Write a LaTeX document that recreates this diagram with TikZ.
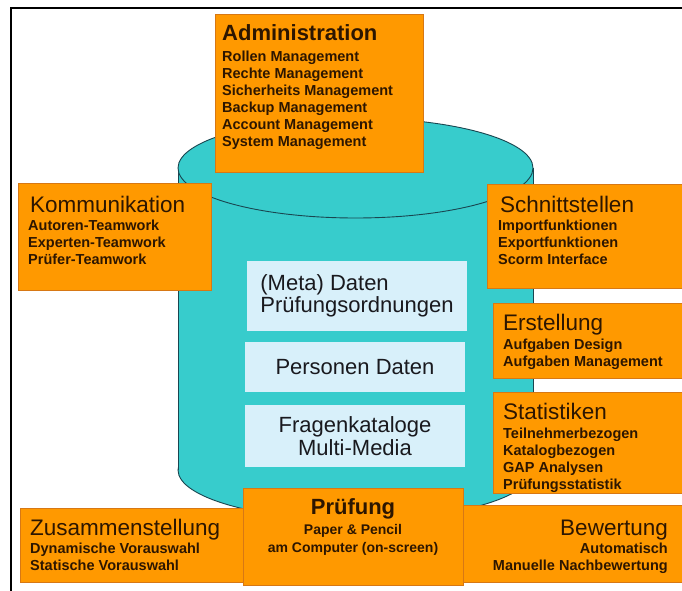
\documentclass[tikz,border=0pt]{standalone}
\usepackage{fontspec}
\setmainfont{Liberation Sans}
\definecolor{boxorange}{RGB}{255,153,0}
\definecolor{boxedge}{RGB}{215,120,20}
\definecolor{dbteal}{RGB}{55,204,204}
\definecolor{dbline}{RGB}{25,70,80}
\definecolor{panelblue}{RGB}{216,240,250}
\definecolor{inktext}{RGB}{45,22,0}
\definecolor{paneltext}{RGB}{25,25,30}
\begin{document}
\begin{tikzpicture}[x=1pt,y=-1pt,
  orangebox/.style={draw=boxedge, line width=0.6pt, fill=boxorange, inner sep=0, rectangle},
  panel/.style={fill=panelblue, inner sep=0, rectangle, text=paneltext,
    font=\fontsize{22}{22}\selectfont},
  heading/.style={anchor=base west, inner sep=0, text=inktext,
    font=\fontsize{22.5}{24}\selectfont},
  boldheading/.style={heading, font=\fontsize{22}{24}\selectfont\bfseries},
  itemlist/.style={anchor=base west, inner sep=0, text=inktext,
    font=\fontsize{14.5}{17}\selectfont\bfseries},
  dbedge/.style={draw=dbline, line width=0.9pt}]
\useasboundingbox (0,0) rectangle (682,591);
\fill[white] (0,0) rectangle (682,591);

% frame
\draw[line width=2pt] (11,591) -- (11,8.5) -- (682,8.5);

% database cylinder
\filldraw[dbedge, fill=dbteal] (355.5,470) ellipse [x radius=177.5, y radius=50];
\fill[dbteal] (178,168) rectangle (533,470);
\draw[dbedge] (178,168) -- (178,470);
\draw[dbedge] (533,168) -- (533,470);
\filldraw[dbedge, fill=dbteal] (355.5,168) ellipse [x radius=177.5, y radius=50];

% Administration
\node[orangebox, minimum width=208, minimum height=158] (admin) at (319,93) {};
\node[boldheading] (adminT) at (222,40.5) {Administration};
\node[itemlist] (adminL) at (222,62) {\begin{tabular}[t]{@{}l@{}}Rollen Management\\Rechte Management\\Sicherheits Management\\Backup Management\\Account Management\\System Management\end{tabular}};

% Kommunikation
\node[orangebox, minimum width=193, minimum height=107] (komm) at (114.5,236.5) {};
\node[heading] (kommT) at (30,212.5) {Kommunikation};
\node[itemlist] (kommL) at (28,230) {\begin{tabular}[t]{@{}l@{}}Autoren-Teamwork\\Experten-Teamwork\\Prüfer-Teamwork\end{tabular}};

% Schnittstellen
\node[orangebox, minimum width=195, minimum height=104] (schn) at (584.5,236) {};
\node[heading] (schnT) at (500,212.5) {Schnittstellen};
\node[itemlist] (schnL) at (498,230) {\begin{tabular}[t]{@{}l@{}}Importfunktionen\\Exportfunktionen\\Scorm Interface\end{tabular}};

% Erstellung
\node[orangebox, minimum width=189, minimum height=75] (erst) at (587.5,340.5) {};
\node[heading] (erstT) at (503,330.5) {Erstellung};
\node[itemlist] (erstL) at (503,349) {\begin{tabular}[t]{@{}l@{}}Aufgaben Design\\Aufgaben Management\end{tabular}};

% Statistiken
\node[orangebox, minimum width=189, minimum height=101] (stat) at (587.5,442.5) {};
\node[heading] (statT) at (503,419.5) {Statistiken};
\node[itemlist] (statL) at (503,438) {\begin{tabular}[t]{@{}l@{}}Teilnehmerbezogen\\Katalogbezogen\\GAP Analysen\\Prüfungsstatistik\end{tabular}};

% data panels inside the cylinder
\node[panel, minimum width=220, minimum height=70, align=left] (meta) at (357,296) {(Meta) Daten\\Prüfungsordnungen};
\node[panel, minimum width=220, minimum height=50] (pers) at (355,367) {Personen Daten};
\node[panel, minimum width=220, minimum height=62, align=center,
  font=\fontsize{22}{23}\selectfont] (frag) at (355,436) {Fragenkataloge\\Multi-Media};

% Zusammenstellung
\node[orangebox, minimum width=230, minimum height=74] (zus) at (135,545) {};
\node[heading] (zusT) at (30,535.5) {Zusammenstellung};
\node[itemlist] (zusL) at (30,553) {\begin{tabular}[t]{@{}l@{}}Dynamische Vorauswahl\\Statische Vorauswahl\end{tabular}};

% Bewertung
\node[orangebox, minimum width=224, minimum height=77] (bew) at (570,543.5) {};
\node[heading, anchor=base east] (bewT) at (668,535.5) {Bewertung};
\node[itemlist, anchor=base east] (bewL) at (668,553) {\begin{tabular}[t]{@{}r@{}}Automatisch\\Manuelle Nachbewertung\end{tabular}};

% Pruefung
\node[orangebox, minimum width=220, minimum height=97] (pruef) at (353,536.5) {};
\node[boldheading, anchor=base] (pruefT) at (353,514.5) {Prüfung};
\node[itemlist, anchor=base, font=\fontsize{14}{18}\selectfont\bfseries] (pruefL) at (353,534) {\begin{tabular}[t]{@{}c@{}}Paper \& Pencil\\am Computer (on-screen)\end{tabular}};
\end{tikzpicture}
\end{document}
